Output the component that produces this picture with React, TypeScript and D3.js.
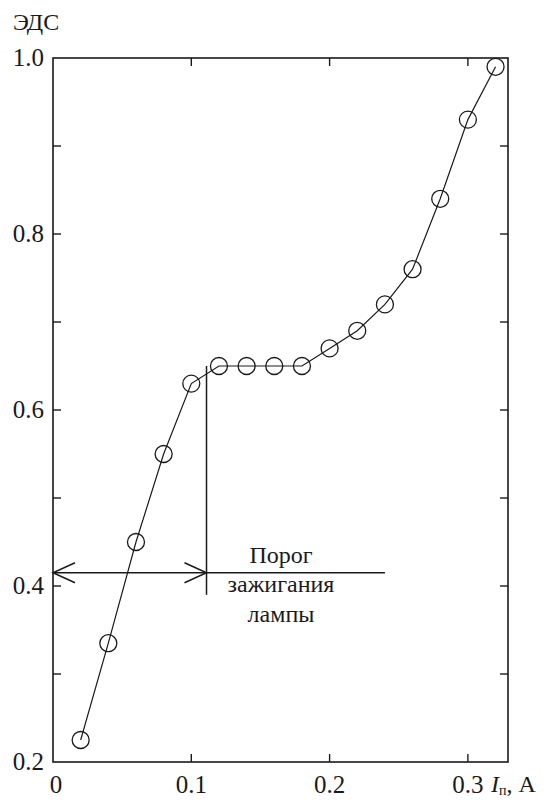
import React, { useEffect, useRef } from 'react';
import * as d3 from 'd3';

// Lamp current, A
const current = [0.02, 0.04, 0.06, 0.08, 0.1, 0.12, 0.14, 0.16, 0.18, 0.2, 0.22, 0.24, 0.26, 0.28, 0.3, 0.32];
// EMF (ЭДС)
const emf = [0.225, 0.335, 0.45, 0.55, 0.63, 0.65, 0.65, 0.65, 0.65, 0.67, 0.69, 0.72, 0.76, 0.84, 0.93, 0.99];

const yLabelTicks = [0.2, 0.4, 0.6, 0.8, 1.0];
const yTicks = [0.3, 0.4, 0.5, 0.6, 0.7, 0.8, 0.9];
const xTicks = [0.1, 0.2, 0.3];
const xLabelTicks = [0, 0.1, 0.2, 0.3];

// threshold annotation
const thresholdX = 0.111;
const thresholdTop = 0.65;
const thresholdBottom = 0.39;
const arrowY = 0.415;
const arrowLineEnd = 0.24;
const noteLines = ['Порог', 'зажигания', 'лампы'];

const App: React.FC = () => {
  const svgRef = useRef<SVGSVGElement>(null);

  useEffect(() => {
    if (!svgRef.current) return;
    const width = 556;
    const height = 800;
    const margin = { top: 58, right: 48, bottom: 38, left: 53 };
    const ink = '#1a1a1a';
    const font = 'Liberation Serif, Tinos, Times New Roman, DejaVu Serif, serif';

    const svg = d3.select(svgRef.current);
    svg.selectAll('*').remove();
    svg.attr('viewBox', `0 0 ${width} ${height}`);

    const x = d3.scaleLinear().domain([0, 0.329]).range([margin.left, width - margin.right]);
    const y = d3.scaleLinear().domain([0.2, 1.0]).range([height - margin.bottom, margin.top]);

    const [x0, x1] = x.range();
    const [y0, y1] = y.range();

    // frame
    svg.append('rect')
      .attr('x', x0).attr('y', y1)
      .attr('width', x1 - x0).attr('height', y0 - y1)
      .attr('fill', 'none').attr('stroke', ink).attr('stroke-width', 1.6);

    // inward ticks on all sides
    const tl = 8;
    const ticks = svg.append('g').attr('stroke', ink).attr('stroke-width', 1.4);
    yTicks.forEach((v) => {
      ticks.append('line').attr('x1', x0).attr('x2', x0 + tl).attr('y1', y(v)).attr('y2', y(v));
      ticks.append('line').attr('x1', x1).attr('x2', x1 - tl).attr('y1', y(v)).attr('y2', y(v));
    });
    xTicks.forEach((v) => {
      ticks.append('line').attr('x1', x(v)).attr('x2', x(v)).attr('y1', y0).attr('y2', y0 - tl);
      ticks.append('line').attr('x1', x(v)).attr('x2', x(v)).attr('y1', y1).attr('y2', y1 + tl);
    });

    // tick labels
    svg.append('g')
      .selectAll('text')
      .data(yLabelTicks)
      .join('text')
      .attr('x', x0 - 9)
      .attr('y', (d) => y(d) + 8)
      .attr('text-anchor', 'end')
      .style('font-family', font)
      .attr('font-size', 25)
      .attr('fill', ink)
      .text((d) => d.toFixed(1));

    svg.append('g')
      .selectAll('text')
      .data(xLabelTicks)
      .join('text')
      .attr('x', (d) => x(d) + (d === 0 ? 3 : 0))
      .attr('y', 793)
      .attr('text-anchor', 'middle')
      .style('font-family', font)
      .attr('font-size', 25)
      .attr('fill', ink)
      .text((d) => (d === 0 ? '0' : d.toFixed(1)));

    // axis titles
    svg.append('text')
      .attr('x', 13).attr('y', 30)
      .style('font-family', font).attr('font-size', 24).attr('fill', ink)
      .text('ЭДС');

    const xt = svg.append('text')
      .attr('x', 491).attr('y', 792)
      .style('font-family', font).attr('font-size', 24).attr('fill', ink);
    xt.append('tspan').attr('font-style', 'italic').text('I');
    xt.append('tspan').attr('font-size', 14).attr('dy', 3).text('п');
    xt.append('tspan').attr('dy', -3).text(', A');

    // data line
    const pts: [number, number][] = current.map((c, i) => [c, emf[i]]);
    const line = d3.line<[number, number]>()
      .x((d) => x(d[0]))
      .y((d) => y(d[1]));
    svg.append('path')
      .datum(pts)
      .attr('d', line)
      .attr('fill', 'none')
      .attr('stroke', ink)
      .attr('stroke-width', 1.2);

    // markers
    svg.append('g')
      .selectAll('circle')
      .data(pts)
      .join('circle')
      .attr('cx', (d) => x(d[0]))
      .attr('cy', (d) => y(d[1]))
      .attr('r', 8.5)
      .attr('fill', 'none')
      .attr('stroke', ink)
      .attr('stroke-width', 1.3);

    // threshold annotation
    const ann = svg.append('g').attr('stroke', ink).attr('stroke-width', 1.5).attr('fill', 'none');
    ann.append('line')
      .attr('x1', x(thresholdX)).attr('x2', x(thresholdX))
      .attr('y1', y(thresholdTop)).attr('y2', y(thresholdBottom));
    ann.append('line')
      .attr('x1', x(0)).attr('x2', x(arrowLineEnd))
      .attr('y1', y(arrowY)).attr('y2', y(arrowY));
    const ay = y(arrowY);
    const head = 22;
    const spread = 10;
    ann.append('path')
      .attr('d', `M${x(0) + head},${ay - spread}L${x(0)},${ay}L${x(0) + head},${ay + spread}`);
    ann.append('path')
      .attr('d', `M${x(thresholdX) - head},${ay - spread}L${x(thresholdX)},${ay}L${x(thresholdX) - head},${ay + spread}`);

    svg.append('g')
      .selectAll('text')
      .data(noteLines)
      .join('text')
      .attr('x', 281)
      .attr('y', (_, i) => ay - 10 + i * 29.5)
      .attr('text-anchor', 'middle')
      .style('font-family', font)
      .attr('font-size', 24)
      .attr('fill', ink)
      .text((d) => d);
  }, []);

  return (
    <svg
      ref={svgRef}
      width={556}
      height={800}
      style={{ position: 'absolute', left: 0, top: 0, background: '#fff' }}
    />
  );
};

export default App;
